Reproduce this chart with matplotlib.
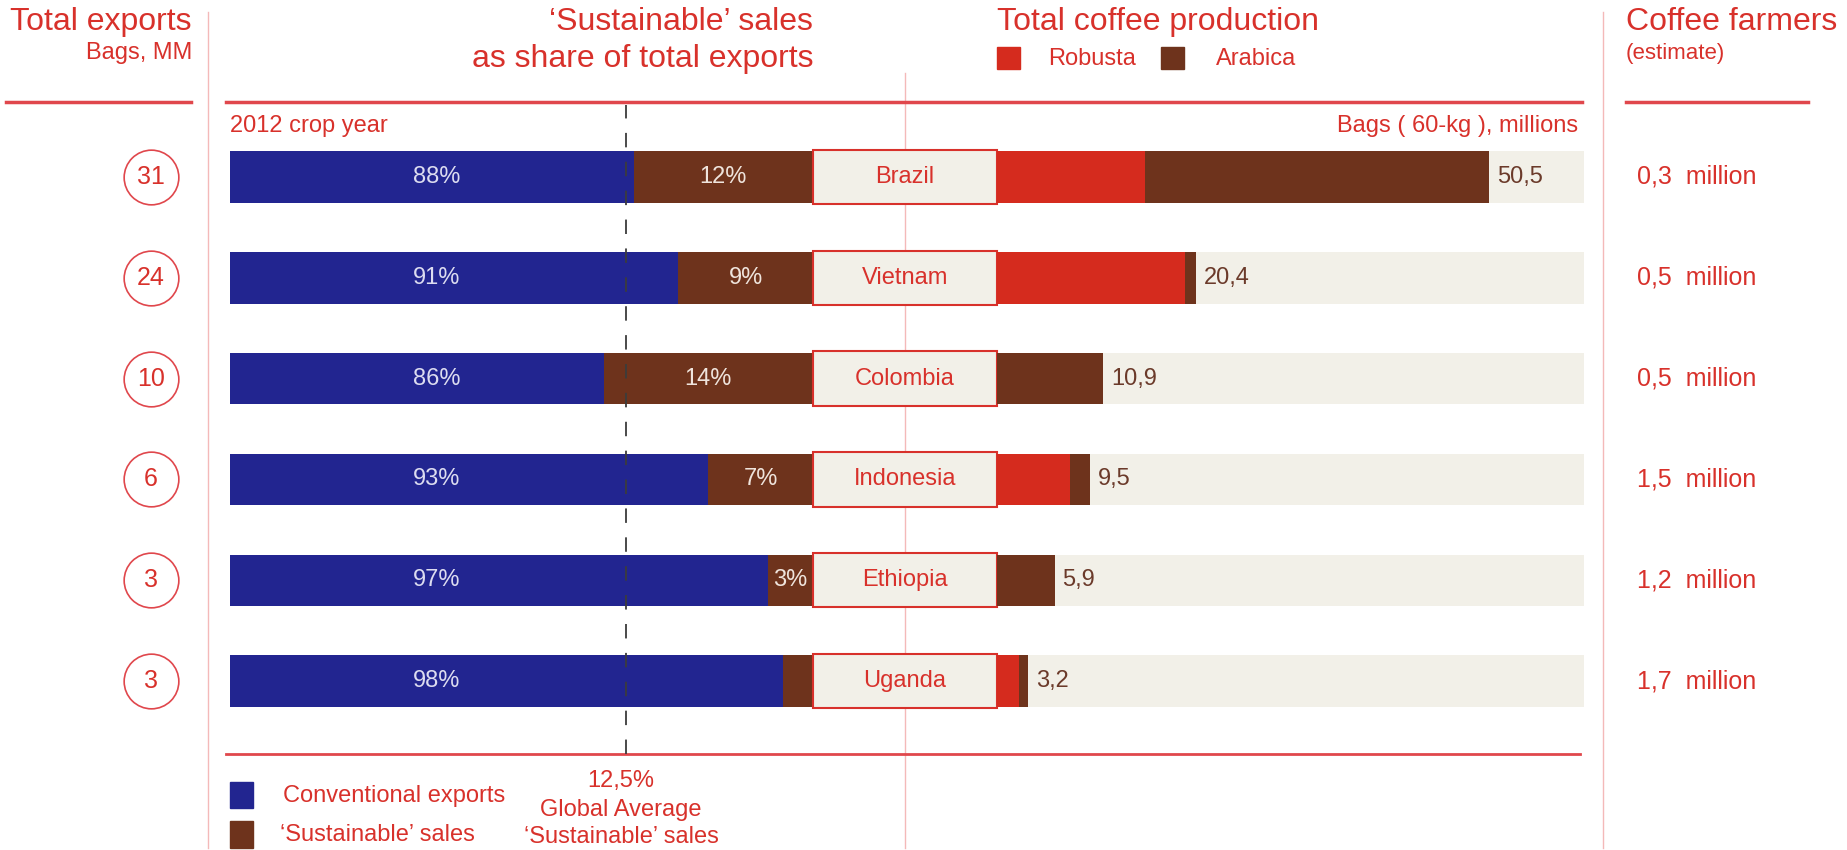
import matplotlib
matplotlib.use("Agg")
import matplotlib.pyplot as plt

plt.rcParams['font.family'] = ['Liberation Sans', 'DejaVu Sans']

# data
countries = ['Brazil', 'Vietnam', 'Colombia', 'Indonesia', 'Ethiopia', 'Uganda']
total_exports = [31, 24, 10, 6, 3, 3]
conventional_pct = [88, 91, 86, 93, 97, 98]
sustainable_pct = [12, 9, 14, 7, 3, 2]
robusta = [15.2, 19.3, 0.0, 7.5, 0.0, 2.3]
arabica = [35.3, 1.1, 10.9, 2.0, 5.9, 0.9]
production_total = [50.5, 20.4, 10.9, 9.5, 5.9, 3.2]
farmers_mm = [0.3, 0.5, 0.5, 1.5, 1.2, 1.7]
global_avg_sustainable = 12.5

RED = '#D8312B'
LINE_RED = '#E0474C'
PINK = '#F4B9B9'
BLUE = '#222590'
BROWN = '#6E331C'
ROB = '#D52B1E'
BEIGE = '#F2F0E8'

W, H = 1847, 850
fig = plt.figure(figsize=(W / 100, H / 100), dpi=100)


def add_ax(x0, y0, x1, y1, **kw):
    return fig.add_axes([x0 / W, 1 - y1 / H, (x1 - x0) / W, (y1 - y0) / H], **kw)


def comma(v):
    return f"{v:.1f}".replace('.', ',')


rows = list(range(len(countries)))
ylim = (5.724, -0.744)
bar_h = 0.51

# background layer for lines and headings
bg = add_ax(0, 0, W, H)
bg.set_xlim(0, W)
bg.set_ylim(H, 0)
bg.axis('off')

for x in (208, 1603):
    bg.plot([x, x], [12, 848], color=PINK, lw=1)
bg.plot([905, 905], [73, 848], color=PINK, lw=1)
bg.plot([6, 191], [102, 102], color=LINE_RED, lw=2.5)
bg.plot([226, 1582], [102, 102], color=LINE_RED, lw=2.5)
bg.plot([1626, 1808], [102, 102], color=LINE_RED, lw=2.5)
bg.plot([226, 1580], [754, 754], color=LINE_RED, lw=2)

bg.text(192, 22, 'Total exports', ha='right', va='center', fontsize=23, color=RED)
bg.text(192, 53, 'Bags, MM', ha='right', va='center', fontsize=17, color=RED)
bg.text(813, 22, '‘Sustainable’ sales', ha='right', va='center', fontsize=23, color=RED)
bg.text(813, 59, 'as share of total exports', ha='right', va='center', fontsize=23, color=RED)
bg.text(997, 22, 'Total coffee production', ha='left', va='center', fontsize=23, color=RED)
bg.text(1626, 22, 'Coffee farmers', ha='left', va='center', fontsize=23, color=RED)
bg.text(1626, 53, '(estimate)', ha='left', va='center', fontsize=16, color=RED)
bg.text(230, 126, '2012 crop year', ha='left', va='center', fontsize=17, color=RED)
bg.text(1578, 126, 'Bags ( 60-kg ), millions', ha='right', va='center', fontsize=17, color=RED)

# top legend
bg.add_patch(plt.Rectangle((997, 47), 23, 22, color=ROB))
bg.text(1048, 59, 'Robusta', ha='left', va='center', fontsize=17, color=RED)
bg.add_patch(plt.Rectangle((1161, 47), 23, 22, color=BROWN))
bg.text(1216, 59, 'Arabica', ha='left', va='center', fontsize=17, color=RED)

# bottom legend
bg.add_patch(plt.Rectangle((230, 782), 23, 26, color=BLUE))
bg.text(283, 796, 'Conventional exports', ha='left', va='center', fontsize=17, color=RED)
bg.add_patch(plt.Rectangle((230, 821), 23, 27, color=BROWN))
bg.text(280, 835, '‘Sustainable’ sales', ha='left', va='center', fontsize=17, color=RED)
bg.text(621, 781, comma(global_avg_sustainable) + '%', ha='center', va='center', fontsize=17, color=RED)
bg.text(621, 810, 'Global Average', ha='center', va='center', fontsize=17, color=RED)
bg.text(621, 837, '‘Sustainable’ sales', ha='center', va='center', fontsize=17, color=RED)

# exports circles
ax_exp = add_ax(100, 102, 200, 754)
ax_exp.set_xlim(0, 1)
ax_exp.set_ylim(*ylim)
ax_exp.axis('off')
ax_exp.scatter([0.51] * len(rows), rows, s=1550, facecolors='white',
               edgecolors=LINE_RED, linewidths=1.2, clip_on=False)
for i, v in zip(rows, total_exports):
    ax_exp.text(0.51, i, str(v), ha='center', va='center', fontsize=18, color=RED)

# sustainable share bars
ax_s = add_ax(230, 102, 813, 754)
ax_s.set_xlim(61, 100)
ax_s.set_ylim(*ylim)
ax_s.axis('off')
ax_s.barh(rows, conventional_pct, height=bar_h, color=BLUE)
ax_s.barh(rows, sustainable_pct, left=conventional_pct, height=bar_h, color=BROWN)
ax_s.axvline(100 - global_avg_sustainable, ymax=0.995, color='#3c3c3c', lw=1.3,
             dashes=(8, 8), zorder=3)
for i, c, s in zip(rows, conventional_pct, sustainable_pct):
    ax_s.text(74.8, i, f"{c}%", ha='center', va='center', fontsize=17, color='#DCDCF0')
    if s >= 3:
        ax_s.text(c + s / 2, i, f"{s}%", ha='center', va='center', fontsize=17, color='#EFE4DC')

# country name boxes
ax_n = add_ax(813, 102, 997, 754)
ax_n.set_xlim(0, 1)
ax_n.set_ylim(*ylim)
ax_n.axis('off')
ax_n.barh(rows, [1] * len(rows), height=0.54, color=BEIGE, edgecolor=RED,
          linewidth=1.5, clip_on=False)
for i, name in zip(rows, countries):
    ax_n.text(0.5, i, name, ha='center', va='center', fontsize=17, color=RED)

# production bars
ax_p = add_ax(997, 102, 1584, 754)
ax_p.set_xlim(0, 60.2)
ax_p.set_ylim(*ylim)
ax_p.axis('off')
ax_p.barh(rows, [60.2] * len(rows), height=bar_h, color=BEIGE)
ax_p.barh(rows, robusta, height=bar_h, color=ROB)
ax_p.barh(rows, arabica, left=robusta, height=bar_h, color=BROWN)
for i, t in zip(rows, production_total):
    ax_p.text(t + 0.8, i, comma(t), ha='left', va='center', fontsize=17, color='#6B3A2A')

# farmers column
tr = ax_p.get_yaxis_transform()
for i, f in zip(rows, farmers_mm):
    ax_p.text(1.09, i, comma(f) + '  million', transform=tr, ha='left',
              va='center', fontsize=18, color=RED)

fig.savefig('out.png', dpi=100)
